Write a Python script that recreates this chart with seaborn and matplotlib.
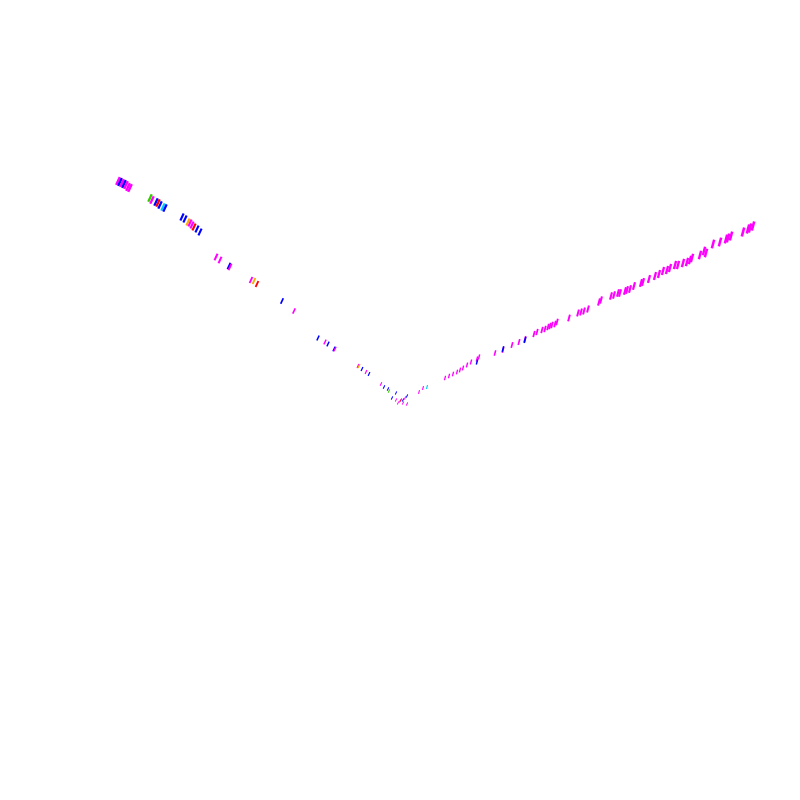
import numpy as np
import pandas as pd
import matplotlib
matplotlib.use('Agg')
import matplotlib.pyplot as plt
import seaborn as sns

# left arm points (x, y) and colour group
left_x = [118, 120, 122, 124, 126, 128, 130, 150, 152, 156, 158, 160, 163, 165,
          182, 185, 188, 190, 192, 194, 197, 200, 216, 220, 229, 230, 251, 254, 257,
          282, 294, 318, 325, 328, 334, 335, 358, 359, 362, 366, 369, 381, 384, 388,
          389, 396, 392, 396, 400, 401, 403, 405, 407, 403, 398, 407]
left_y = [181, 182, 183, 184, 185, 187, 188, 198, 200, 202, 203, 205, 207, 208,
          217, 219, 222, 223, 225, 227, 229, 232, 257, 260, 266, 267, 280, 281, 284,
          301, 311, 338, 342, 344, 349, 349, 366, 366, 369, 372, 374, 384, 387, 389,
          391, 393, 398, 400, 401, 400, 400, 398, 396, 403, 403, 404]
left_c = ['magenta', 'blue', 'magenta', 'blue', 'magenta', 'magenta', 'magenta',
          'green', 'magenta', 'blue', 'red', 'blue', 'cyan', 'blue',
          'blue', 'blue', 'orange', 'magenta', 'magenta', 'red', 'blue', 'blue',
          'magenta', 'magenta', 'blue', 'magenta', 'magenta', 'orange', 'red',
          'blue', 'magenta', 'blue', 'magenta', 'blue', 'blue', 'magenta',
          'magenta', 'orange', 'blue', 'magenta', 'blue', 'magenta', 'blue', 'blue',
          'green', 'blue', 'blue', 'magenta', 'magenta', 'red', 'blue', 'magenta',
          'blue', 'magenta', 'magenta', 'magenta']

# right arm points
right_x = [419, 423, 427, 445, 449, 453, 457, 460, 463, 467, 471, 477, 479, 477,
           495, 503, 503, 512, 519, 525, 525, 534, 537, 542, 545, 548, 550, 552,
           555, 557, 569, 578, 581, 584, 588, 599, 601, 611, 614, 618, 620, 625,
           627, 630, 634, 641, 643, 649, 655, 659, 663, 667, 670, 675, 678, 683,
           687, 690, 692, 700, 704, 706, 713, 720, 726, 728, 731, 743, 748, 750, 753]
right_y = [392, 388, 387, 378, 376, 374, 372, 370, 368, 365, 362, 359, 357, 362,
           353, 350, 349, 345, 342, 339, 340, 334, 332, 330, 329, 327, 326, 325,
           324, 322, 318, 313, 312, 311, 309, 302, 300, 296, 295, 293, 293, 291,
           290, 289, 286, 283, 282, 279, 276, 274, 271, 270, 268, 265, 265, 263,
           262, 260, 258, 255, 251, 253, 244, 242, 239, 238, 236, 232, 229, 228, 226]
right_c = ['magenta', 'magenta', 'cyan'] + ['magenta'] * 10 + ['blue'] + \
          ['magenta', 'magenta', 'blue', 'magenta', 'magenta', 'magenta', 'blue'] + \
          ['magenta'] * (len(right_x) - 21)

palette = {'magenta': '#ff00ff', 'blue': '#0000ff', 'red': '#ff0000',
           'green': '#33cc00', 'cyan': '#00ccff', 'orange': '#ffaa00'}

df = pd.DataFrame({'x': left_x + right_x, 'y': left_y + right_y,
                   'grp': left_c + right_c})
# marks get bigger away from the vertex
df['size'] = np.abs(df['x'] - 400)


def dash_marker(deg, w=0.28, h=1.0):
    a = np.deg2rad(deg - 90)
    pts = np.array([[-w, -h], [w, -h], [w, h], [-w, h], [-w, -h]])
    rot = np.array([[np.cos(a), -np.sin(a)], [np.sin(a), np.cos(a)]])
    return pts @ rot.T


fig = plt.figure(figsize=(8, 8), dpi=100)
ax = fig.add_axes([0, 0, 1, 1])
left = df.iloc[:len(left_x)]
right = df.iloc[len(left_x):]
sns.scatterplot(data=left, x='x', y='y', hue='grp', palette=palette, size='size',
                sizes=(6, 50), size_norm=(0, 360), marker=dash_marker(65),
                linewidth=0, legend=False, ax=ax)
sns.scatterplot(data=right, x='x', y='y', hue='grp', palette=palette, size='size',
                sizes=(6, 50), size_norm=(0, 360), marker=dash_marker(75),
                linewidth=0, legend=False, ax=ax)
ax.set_xlim(0, 800)
ax.set_ylim(800, 0)
ax.axis('off')
fig.savefig('out.png', dpi=100, facecolor='white')
